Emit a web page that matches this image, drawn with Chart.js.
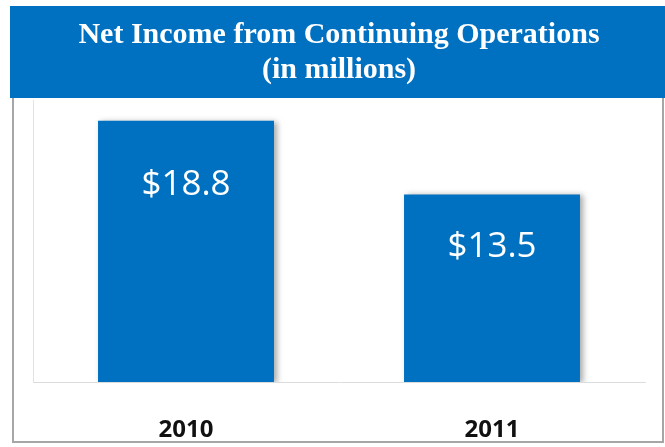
<!DOCTYPE html>
<html>
<head>
<meta charset="utf-8">
<title>Net Income from Continuing Operations</title>
<script src="https://cdn.jsdelivr.net/npm/chart.js@4.4.1/dist/chart.umd.min.js"></script>
<style>
  html, body { margin: 0; padding: 0; background: #fff; }
  #wrap { width: 665px; height: 447px; position: relative; }
</style>
</head>
<body>
<div id="wrap"><canvas id="income"></canvas></div>
<script>
// Net income, $ millions
const years = ['2010', '2011'];
const netIncome = [18.8, 13.5];
const valueLabels = ['$18.8', '$13.5'];
const titleLines = ['Net Income from Continuing Operations', '(in millions)'];

const BLUE = '#0070C0';

// Blue header band + gray outer frame behind the chart
const framePlugin = {
  id: 'frame',
  beforeDraw(chart) {
    const { ctx, chartArea } = chart;
    ctx.save();
    ctx.fillStyle = '#fff';
    ctx.fillRect(0, 0, chart.width, chart.height);
    ctx.strokeStyle = '#a6a6a6';
    ctx.lineWidth = 2;
    ctx.strokeRect(13, 90, 650, 352);
    ctx.fillStyle = BLUE;
    ctx.fillRect(10, 6, 655, 92);
    // faint left edge of the plot
    ctx.strokeStyle = '#e3e3e3';
    ctx.lineWidth = 1;
    ctx.beginPath();
    ctx.moveTo(chartArea.left + 0.5, 100);
    ctx.lineTo(chartArea.left + 0.5, chartArea.bottom);
    ctx.stroke();
    ctx.restore();
  }
};

// Soft shadow on the bars, then the value text inside each bar
const barPlugin = {
  id: 'barDeco',
  beforeDatasetsDraw(chart) {
    const ctx = chart.ctx;
    ctx.save();
    ctx.shadowColor = 'rgba(0,0,0,0.35)';
    ctx.shadowBlur = 6;
    ctx.shadowOffsetX = 3;
    ctx.shadowOffsetY = 1;
  },
  afterDatasetsDraw(chart, args, opts) {
    const ctx = chart.ctx;
    ctx.restore();
    ctx.save();
    ctx.fillStyle = '#fff';
    ctx.font = '35px "Open Sans", sans-serif';
    ctx.textAlign = 'center';
    ctx.textBaseline = 'middle';
    chart.getDatasetMeta(0).data.forEach((bar, i) => {
      ctx.fillText(valueLabels[i], bar.x, bar.y + opts.offsets[i]);
    });
    ctx.restore();
  }
};

new Chart(document.getElementById('income'), {
  type: 'bar',
  data: {
    labels: years,
    datasets: [{
      data: netIncome,
      backgroundColor: BLUE,
      borderWidth: 0,
      barPercentage: 0.575,
      categoryPercentage: 1
    }]
  },
  options: {
    responsive: true,
    maintainAspectRatio: false,
    animation: false,
    layout: { padding: { left: 33, right: 20, top: 6, bottom: 0 } },
    scales: {
      x: {
        grid: { display: false, drawTicks: false },
        border: { color: '#dcdcdc', width: 1 },
        ticks: {
          color: '#111',
          padding: 34,
          maxRotation: 0,
          font: { family: '"Open Sans", sans-serif', size: 24, weight: 'bold' }
        },
        // fixed band under the baseline for the year labels
        afterFit(scale) { scale.height = 65; }
      },
      y: {
        display: false,
        min: 0,
        max: 20
      }
    },
    plugins: {
      legend: { display: false },
      tooltip: { enabled: false },
      title: {
        display: true,
        text: titleLines,
        color: '#fff',
        font: { family: '"Liberation Serif", "Times New Roman", serif', size: 30, weight: 'bold', lineHeight: 1.17 },
        padding: { top: 12, bottom: 16 }
      },
      barDeco: { offsets: [64, 53] }
    }
  },
  plugins: [framePlugin, barPlugin]
});
</script>
</body>
</html>
